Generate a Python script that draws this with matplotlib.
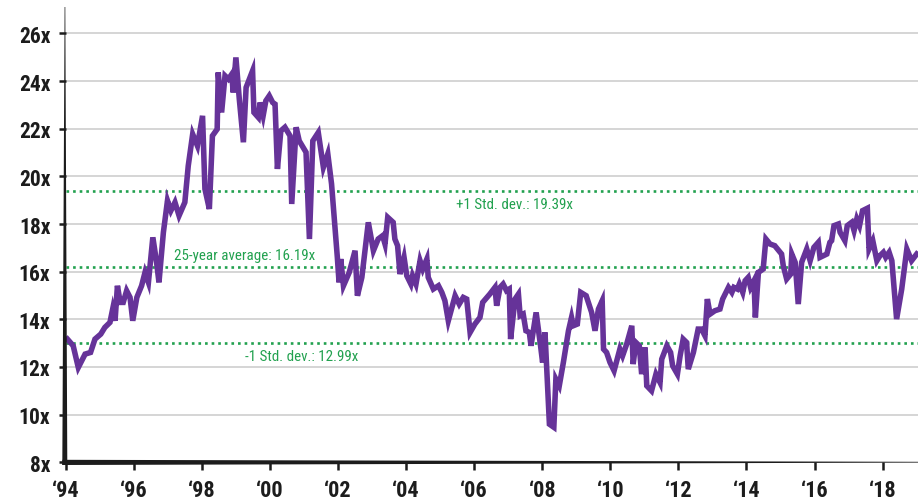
import matplotlib
matplotlib.use("Agg")
import matplotlib.pyplot as plt
from matplotlib.patches import Polygon
from matplotlib import font_manager

# ---------------- data ----------------
years = [
    1994.05, 1994.22, 1994.37, 1994.57, 1994.73, 1994.86, 1995.03, 1995.15, 1995.30, 1995.38,
    1995.45, 1995.52, 1995.60, 1995.69, 1995.79, 1995.89, 1995.97, 1996.09, 1996.23, 1996.33,
    1996.43, 1996.56, 1996.67, 1996.74, 1996.87, 1996.99, 1997.09, 1997.21, 1997.33, 1997.50,
    1997.60, 1997.73, 1997.87, 1998.02, 1998.09, 1998.22, 1998.31, 1998.45, 1998.48, 1998.58,
    1998.68, 1998.78, 1998.88, 1998.92, 1999.00, 1999.10, 1999.22, 1999.30, 1999.49, 1999.53,
    1999.66, 1999.71, 1999.80, 1999.88, 1999.98, 2000.08, 2000.15, 2000.22, 2000.32, 2000.44,
    2000.59, 2000.64, 2000.77, 2000.86, 2001.06, 2001.16, 2001.26, 2001.42, 2001.57, 2001.70,
    2001.81, 2001.91, 2001.98, 2002.03, 2002.08, 2002.16, 2002.33, 2002.50, 2002.57, 2002.70,
    2002.89, 2003.04, 2003.18, 2003.31, 2003.38, 2003.46, 2003.62, 2003.67, 2003.75, 2003.82,
    2003.94, 2004.02, 2004.14, 2004.19, 2004.29, 2004.41, 2004.49, 2004.61, 2004.65, 2004.80,
    2004.95, 2005.05, 2005.14, 2005.24, 2005.44, 2005.56, 2005.68, 2005.78, 2005.88, 2006.02,
    2006.17, 2006.25, 2006.46, 2006.61, 2006.66, 2006.76, 2006.85, 2006.95, 2007.03, 2007.07,
    2007.20, 2007.30, 2007.35, 2007.44, 2007.52, 2007.62, 2007.67, 2007.82, 2007.95, 2008.01,
    2008.08, 2008.21, 2008.34, 2008.40, 2008.50, 2008.62, 2008.77, 2008.86, 2008.91, 2009.03,
    2009.13, 2009.29, 2009.45, 2009.55, 2009.65, 2009.76, 2009.80, 2009.89, 2009.99, 2010.11,
    2010.28, 2010.36, 2010.48, 2010.63, 2010.67, 2010.75, 2010.85, 2010.92, 2011.02, 2011.07,
    2011.21, 2011.34, 2011.46, 2011.51, 2011.66, 2011.77, 2011.83, 2011.97, 2012.05, 2012.14,
    2012.24, 2012.29, 2012.44, 2012.58, 2012.68, 2012.78, 2012.85, 2012.93, 2013.07, 2013.22,
    2013.30, 2013.47, 2013.57, 2013.63, 2013.73, 2013.79, 2013.89, 2013.96, 2014.05, 2014.12,
    2014.22, 2014.26, 2014.35, 2014.49, 2014.57, 2014.69, 2014.83, 2015.03, 2015.08, 2015.18,
    2015.30, 2015.33, 2015.43, 2015.52, 2015.62, 2015.77, 2015.87, 2015.98, 2016.11, 2016.16,
    2016.36, 2016.45, 2016.50, 2016.57, 2016.70, 2016.75, 2016.89, 2016.96, 2017.09, 2017.16,
    2017.24, 2017.32, 2017.41, 2017.55, 2017.60, 2017.71, 2017.83, 2017.92, 2018.02, 2018.09,
    2018.19, 2018.27, 2018.41, 2018.56, 2018.71, 2018.85, 2019.00,
]
pe_ratio = [
    13.17, 12.89, 11.98, 12.54, 12.61, 13.17, 13.38, 13.66, 13.87, 14.43,
    13.94, 15.41, 14.71, 14.71, 15.20, 14.92, 13.94, 14.92, 15.41, 15.97,
    15.55, 17.44, 16.39, 15.55, 17.65, 18.98, 18.56, 18.91, 18.35, 18.91,
    20.44, 21.77, 21.28, 22.54, 19.47, 18.63, 21.70, 21.98, 24.36, 22.68,
    24.22, 24.08, 24.29, 23.52, 24.99, 23.24, 21.43, 23.73, 24.43, 22.68,
    22.47, 23.10, 22.54, 23.17, 23.38, 23.10, 23.03, 20.31, 21.91, 22.06,
    21.70, 18.84, 22.06, 21.49, 21.01, 17.37, 21.49, 21.84, 20.38, 20.94,
    19.68, 17.86, 16.60, 15.55, 16.53, 15.41, 15.97, 16.88, 14.99, 15.76,
    18.07, 16.88, 17.37, 17.51, 17.16, 18.28, 18.07, 17.37, 17.09, 15.90,
    16.60, 15.83, 15.48, 15.83, 15.48, 16.46, 16.11, 16.53, 15.76, 15.27,
    15.41, 15.13, 14.78, 13.94, 14.99, 14.64, 14.92, 14.85, 13.45, 13.80,
    14.08, 14.71, 15.06, 15.34, 14.57, 15.34, 15.48, 15.20, 15.27, 13.17,
    14.85, 15.06, 14.15, 14.22, 13.52, 13.45, 12.89, 14.29, 12.89, 12.19,
    13.45, 9.60, 9.47, 11.49, 11.21, 12.19, 13.52, 14.08, 13.73, 13.80,
    15.13, 14.99, 14.29, 13.52, 14.43, 14.78, 12.75, 12.61, 12.19, 11.84,
    12.75, 12.47, 12.96, 13.73, 12.12, 13.03, 12.89, 11.70, 12.82, 11.21,
    11.00, 11.70, 11.35, 12.33, 12.89, 12.61, 12.05, 11.70, 12.47, 13.17,
    13.03, 11.91, 12.61, 13.59, 13.59, 13.31, 14.85, 14.22, 14.36, 14.43,
    14.85, 15.34, 15.13, 15.34, 15.27, 15.48, 15.13, 15.62, 15.76, 15.34,
    15.62, 14.08, 15.97, 16.11, 17.37, 17.16, 17.09, 16.74, 16.25, 15.69,
    15.90, 16.74, 16.39, 14.64, 16.39, 16.95, 16.46, 17.02, 17.23, 16.60,
    16.74, 17.23, 17.30, 17.93, 18.00, 17.65, 17.30, 17.93, 18.07, 17.72,
    18.21, 17.93, 18.56, 18.66, 16.95, 17.30, 16.46, 16.67, 16.81, 16.60,
    16.81, 16.46, 14.01, 15.27, 16.95, 16.46, 16.74,
]
average = 16.19
plus_std = 19.39
minus_std = 12.99
ref_labels = ["+1 Std. dev.: 19.39x", "25-year average: 16.19x", "-1 Std. dev.: 12.99x"]
y_ticks = [8, 10, 12, 14, 16, 18, 20, 22, 24, 26]
y_tick_labels = ["8x", "10x", "12x", "14x", "16x", "18x", "20x", "22x", "24x", "26x"]
x_ticks = [1994, 1996, 1998, 2000, 2002, 2004, 2006, 2008, 2010, 2012, 2014, 2016, 2018]
x_tick_labels = ["\u201894", "\u201896", "\u201898", "\u201800", "\u201802", "\u201804", "\u201806",
                 "\u201808", "\u201810", "\u201812", "\u201814", "\u201816", "\u201818"]

# ---------------- font choice: prefer a condensed face ----------------
entries = font_manager.fontManager.ttflist
names = {f.name for f in entries}
stretch = "normal"
main_font = None
for cand in ["Roboto Condensed", "Liberation Sans Narrow", "Open Sans Condensed",
             "Noto Sans Condensed", "DejaVu Sans Condensed"]:
    if cand in names:
        main_font = cand
        break
if main_font is None:
    cond = [f for f in entries if f.name == "DejaVu Sans" and
            str(f.stretch).lower() in ("condensed", "semi-condensed", "500", "600")]
    if cond:
        main_font = "DejaVu Sans"
        stretch = "condensed"
if main_font is None:
    main_font = "Roboto" if "Roboto" in names else "Liberation Sans"
FAM = [main_font, "DejaVu Sans"]

PURPLE = "#663399"
GREEN = "#22a14f"
DARK = "#1c1c1c"
GRID = "#d2d2d2"

W, H = 918, 502
fig = plt.figure(figsize=(W / 100, H / 100), dpi=100)
x0_px, x1_px = 65.7, 918.0
ybot_px, ytop_px = 463.3, 10.0
ax = fig.add_axes([x0_px / W, (H - ybot_px) / H, (x1_px - x0_px) / W, (ybot_px - ytop_px) / H])
px_per_year = 34.04
px_per_unit = 23.83
ax.set_xlim(1994, 1994 + (x1_px - x0_px) / px_per_year)
ax.set_ylim(8, 8 + (ybot_px - ytop_px) / px_per_unit)

for s in ax.spines.values():
    s.set_visible(False)

for v in y_ticks[1:]:
    ax.axhline(v, color=GRID, lw=1.3, zorder=1)

for v in (plus_std, average, minus_std):
    ax.axhline(v, color=GREEN, lw=1.9, linestyle=(0, (1, 1.5)), zorder=2)

ax.plot(years, pe_ratio, color=PURPLE, lw=4.0, solid_joinstyle="miter", zorder=3)

txt_kw = dict(color=GREEN, fontsize=10.8, family=FAM, fontstretch=stretch,
              ha="center", va="center", zorder=4)
ax.text(1994 + (515 - x0_px) / px_per_year, plus_std - 0.55, ref_labels[0], **txt_kw)
ax.text(1994 + (245 - x0_px) / px_per_year, average + 0.52, ref_labels[1], **txt_kw)
ax.text(1994 + (302 - x0_px) / px_per_year, minus_std - 0.55, ref_labels[2], **txt_kw)

ax.set_yticks(y_ticks)
ax.set_yticklabels(y_tick_labels)
ax.set_xticks(x_ticks)
ax.set_xticklabels(x_tick_labels)
ax.tick_params(axis="y", direction="out", length=5, width=1.8, color=DARK, pad=6)
ax.tick_params(axis="x", direction="out", length=6, width=1.8, color=DARK, pad=6)
for lab in ax.get_yticklabels():
    lab.set_family(FAM); lab.set_fontweight("bold"); lab.set_fontsize(15.5)
    lab.set_color(DARK); lab.set_fontstretch(stretch)
for lab in ax.get_xticklabels():
    lab.set_family(FAM); lab.set_fontweight("bold"); lab.set_fontsize(16)
    lab.set_color(DARK); lab.set_fontstretch(stretch)

def pix(pts):
    return [(x / 100.0, (H - y) / 100.0) for x, y in pts]

left_spine = Polygon(pix([(62.3, 466.0), (67.3, 466.0), (65.3, 8.0), (64.6, 8.0)]),
                     closed=True, transform=fig.dpi_scale_trans, color=DARK, lw=0, zorder=5)
bottom_spine = Polygon(pix([(62.3, 460.8), (918.0, 462.8), (918.0, 463.6), (62.3, 466.0)]),
                       closed=True, transform=fig.dpi_scale_trans, color=DARK, lw=0, zorder=5)
fig.patches.extend([left_spine, bottom_spine])

fig.savefig("out.png", dpi=100)
